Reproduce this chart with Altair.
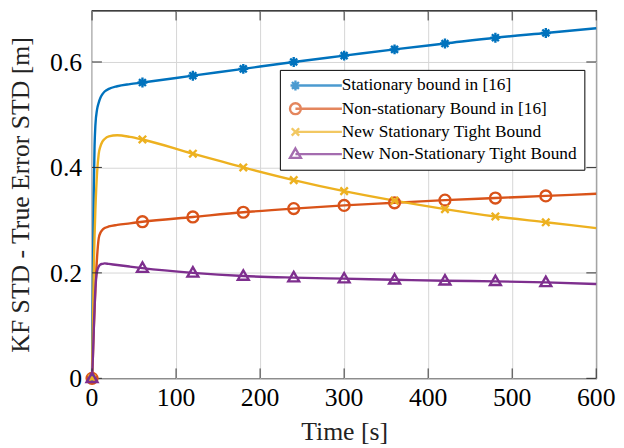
import altair as alt
import pandas as pd

names = ["Stationary bound in [16]", "Non-stationary Bound in [16]",
         "New Stationary Tight Bound", "New Non-Stationary Tight Bound"]
colors = ["#0072BD", "#D95319", "#EDB120", "#7E2F8E"]

time = [0, 1, 2, 3, 4, 6, 8, 10, 12, 15, 20, 30, 45, 60, 120, 180, 240, 300, 360, 420, 480, 540, 600]
stationary = [0, 0.18, 0.35, 0.44, 0.48, 0.51, 0.523, 0.532, 0.538, 0.544, 0.549, 0.554, 0.558, 0.561,
              0.574, 0.587, 0.600, 0.612, 0.624, 0.635, 0.646, 0.655, 0.664]
non_stationary = [0, 0.04, 0.09, 0.13, 0.17, 0.23, 0.266, 0.276, 0.281, 0.285, 0.288, 0.291, 0.294, 0.297,
                  0.306, 0.315, 0.322, 0.328, 0.333, 0.338, 0.342, 0.346, 0.350]
new_stationary = [0, 0.10, 0.20, 0.27, 0.32, 0.39, 0.426, 0.44, 0.448, 0.454, 0.459, 0.461, 0.458, 0.453,
                  0.426, 0.400, 0.376, 0.355, 0.337, 0.321, 0.307, 0.296, 0.285]
new_non_stationary = [0, 0.04, 0.09, 0.135, 0.17, 0.203, 0.212, 0.216, 0.217, 0.218, 0.217, 0.215, 0.212, 0.209,
                      0.200, 0.194, 0.191, 0.189, 0.187, 0.185, 0.184, 0.182, 0.179]

x_ticks = [0, 100, 200, 300, 400, 500, 600]
x_tick_labels = ["0", "100", "200", "300", "400", "500", "600"]
y_ticks = [0, 0.2, 0.4, 0.6]
y_tick_labels = ["0", "0.2", "0.4", "0.6"]

series = [stationary, non_stationary, new_stationary, new_non_stationary]
rows = []
for i, (n, vals) in enumerate(zip(names, series)):
    for t, v in zip(time, vals):
        rows.append({"t": t, "v": v, "series": n, "order": i})
df = pd.DataFrame(rows)

asterisk = "M-1,0L1,0M0,-1L0,1M-0.7,-0.7L0.7,0.7M-0.7,0.7L0.7,-0.7"
xmark = "M-0.75,-0.75L0.75,0.75M-0.75,0.75L0.75,-0.75"
tri = "M0,-1.15L1.1,0.75L-1.1,0.75Z"
circ = "M1.1,0A1.1,1.1,0,1,1,-1.1,0A1.1,1.1,0,1,1,1.1,0Z"
plot_shapes = [asterisk, circ, xmark, tri]
leg_line = "M0,0L9.4,0"
legend_shapes = [asterisk + leg_line, circ + leg_line, xmark + leg_line, tri + leg_line]

W, H = 510, 372
FONT = "Liberation Serif"

xscale = alt.Scale(domain=[0, 600], nice=False)
yscale = alt.Scale(domain=[0, 0.6975], nice=False)
cscale = alt.Scale(domain=names, range=colors)

xaxis = alt.Axis(values=x_ticks, title="Time [s]", grid=True, ticks=False, domain=False, labels=False,
                 titleFont=FONT, titleColor="#222222", titleFontWeight="normal",
                 titleFontSize=26, titlePadding=41)
yaxis = alt.Axis(values=y_ticks, title="KF STD - True Error STD [m]", grid=True,
                 ticks=False, domain=False, labels=False, titleFont=FONT,
                 titleColor="#222222", titleFontWeight="normal",
                 titleFontSize=26, titlePadding=59)

base = alt.Chart(df)

lines = base.mark_line(strokeWidth=2.4, interpolate="monotone").encode(
    x=alt.X("t:Q", scale=xscale, axis=xaxis),
    y=alt.Y("v:Q", scale=yscale, axis=yaxis),
    color=alt.Color("series:N", scale=cscale, legend=None),
    detail="series:N",
    order="order:Q",
)

markers = base.transform_filter("datum.t % 60 == 0 && datum.t <= 540").mark_point(
    filled=False, strokeWidth=2.4, size=100, opacity=1).encode(
    x=alt.X("t:Q", scale=xscale, axis=xaxis),
    y=alt.Y("v:Q", scale=yscale, axis=yaxis),
    color=alt.Color("series:N", scale=cscale, legend=None),
    shape=alt.Shape("series:N", scale=alt.Scale(domain=names, range=plot_shapes), legend=None),
    order="order:Q",
)

leg_props = dict(orient="none", legendX=190, legendY=60, title=None, labelFont=FONT,
                 labelFontSize=17.5, labelColor="black", labelOffset=38, labelLimit=400,
                 symbolStrokeWidth=2.4, symbolSize=100, padding=7, rowPadding=2.5,
                 strokeColor="black", fillColor="white", symbolFillColor="transparent")

legend_layer = base.transform_filter("datum.t < 0").mark_point(
    filled=False, strokeWidth=2.4, size=100).encode(
    x=alt.X("t:Q", scale=xscale, axis=xaxis),
    y=alt.Y("v:Q", scale=yscale, axis=yaxis),
    color=alt.Color("series:N", scale=cscale, legend=alt.Legend(**leg_props)),
    shape=alt.Shape("series:N", scale=alt.Scale(domain=names, range=legend_shapes),
                    legend=alt.Legend(**leg_props)),
)

xt = pd.DataFrame({"t": x_ticks, "label": x_tick_labels})
yt = pd.DataFrame({"v": y_ticks, "label": y_tick_labels})
tick_color = "#333333"
xt_bottom = alt.Chart(xt).mark_rule(color=tick_color, strokeWidth=1).encode(
    x=alt.X("t:Q", scale=xscale, axis=xaxis), y=alt.value(H), y2=alt.value(H - 10))
xt_top = alt.Chart(xt).mark_rule(color=tick_color, strokeWidth=1).encode(
    x=alt.X("t:Q", scale=xscale, axis=xaxis), y=alt.value(0), y2=alt.value(10))
yt_left = alt.Chart(yt).mark_rule(color=tick_color, strokeWidth=1).encode(
    y=alt.Y("v:Q", scale=yscale, axis=yaxis), x=alt.value(0), x2=alt.value(10))
yt_right = alt.Chart(yt).mark_rule(color=tick_color, strokeWidth=1).encode(
    y=alt.Y("v:Q", scale=yscale, axis=yaxis), x=alt.value(W), x2=alt.value(W - 10))

x_labels = alt.Chart(xt).mark_text(font=FONT, fontSize=26, color="black", align="center",
                                   baseline="alphabetic").encode(
    x=alt.X("t:Q", scale=xscale, axis=xaxis), y=alt.value(H + 28), text="label:N")
y_labels = alt.Chart(yt).mark_text(font=FONT, fontSize=26, color="black", align="right",
                                   baseline="alphabetic", dy=9).encode(
    y=alt.Y("v:Q", scale=yscale, axis=yaxis), x=alt.value(-10), text="label:N")

chart = alt.layer(lines, xt_bottom, xt_top, yt_left, yt_right, markers, x_labels, y_labels,
                  legend_layer).resolve_scale(
    color="independent", shape="independent"
).properties(
    width=W, height=H,
    background="white",
    autosize=alt.AutoSizeParams(type="none"),
    padding={"left": 85, "top": 0, "right": 20, "bottom": 80},
).configure(
    font=FONT,
    style={"guide-label": {"font": FONT}, "guide-title": {"font": FONT}},
).configure_view(
    stroke="black", strokeWidth=1.2
).configure_axis(
    titleFont=FONT, gridColor="#d6d6d6", gridWidth=1
).configure_legend(
    labelFont=FONT
)

chart.save("out.html", embed_options={"renderer": "svg", "actions": False})
